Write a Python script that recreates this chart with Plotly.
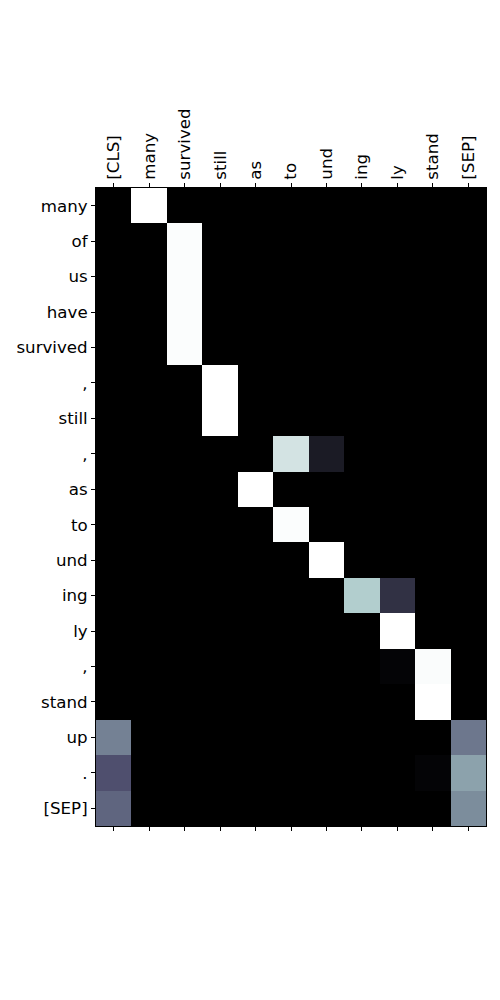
import plotly.graph_objects as go

cols = ["[CLS]", "many", "survived", "still", "as", "to", "und", "ing", "ly", "stand", "[SEP]"]
rows = ["many", "of", "us", "have", "survived", ",", "still", ",", "as", "to", "und", "ing", "ly", ",", "stand", "up", ".", "[SEP]"]

z_many     = [0, 1.0, 0, 0, 0, 0, 0, 0, 0, 0, 0]
z_of       = [0, 0, 0.99, 0, 0, 0, 0, 0, 0, 0, 0]
z_us       = [0, 0, 0.99, 0, 0, 0, 0, 0, 0, 0, 0]
z_have     = [0, 0, 0.99, 0, 0, 0, 0, 0, 0, 0, 0]
z_survived = [0, 0, 0.99, 0, 0, 0, 0, 0, 0, 0, 0]
z_comma1   = [0, 0, 0, 1.0, 0, 0, 0, 0, 0, 0, 0]
z_still    = [0, 0, 0, 1.0, 0, 0, 0, 0, 0, 0, 0]
z_comma2   = [0, 0, 0, 0, 0, 0.875, 0.12, 0, 0, 0, 0]
z_as       = [0, 0, 0, 0, 1.0, 0, 0, 0, 0, 0, 0]
z_to       = [0, 0, 0, 0, 0, 0.99, 0, 0, 0, 0, 0]
z_und      = [0, 0, 0, 0, 0, 0, 1.0, 0, 0, 0, 0]
z_ing      = [0, 0, 0, 0, 0, 0, 0, 0.78, 0.22, 0, 0]
z_ly       = [0, 0, 0, 0, 0, 0, 0, 0, 1.0, 0, 0]
z_comma3   = [0, 0, 0, 0, 0, 0, 0, 0, 0.02, 0.985, 0]
z_stand    = [0, 0, 0, 0, 0, 0, 0, 0, 0, 1.0, 0]
z_up       = [0.52, 0, 0, 0, 0, 0, 0, 0, 0, 0, 0.49]
z_period   = [0.355, 0, 0, 0, 0, 0, 0, 0, 0, 0.02, 0.63]
z_sep      = [0.43, 0, 0, 0, 0, 0, 0, 0, 0, 0, 0.56]

z = [z_many, z_of, z_us, z_have, z_survived, z_comma1, z_still, z_comma2, z_as, z_to,
     z_und, z_ing, z_ly, z_comma3, z_stand, z_up, z_period, z_sep]

bone = [
    [0.0, "rgb(0,0,0)"],
    [0.365079, "rgb(81,81,113)"],
    [0.746032, "rgb(166,198,198)"],
    [1.0, "rgb(255,255,255)"],
]

xi = list(range(len(cols)))
yi = list(range(len(rows)))

fig = go.Figure()
fig.add_trace(go.Heatmap(z=z, x=xi, y=yi, colorscale=bone, zmin=0, zmax=1,
                         showscale=False, hoverinfo="skip"))
fig.add_trace(go.Scatter(x=[xi[0]], y=[yi[0]], xaxis="x2", mode="markers",
                         marker=dict(opacity=0), showlegend=False, hoverinfo="skip"))

font = dict(family="DejaVu Sans", size=16.67, color="black")
fig.update_layout(
    width=500, height=1000,
    margin=dict(l=96, r=14, t=188, b=174),
    paper_bgcolor="white", plot_bgcolor="white",
    showlegend=False,
    font=font,
    xaxis=dict(side="top", range=[-0.5, len(cols) - 0.5], tickvals=xi, ticktext=cols,
               tickangle=-90, ticks="outside", ticklen=4, tickcolor="black",
               showgrid=False, zeroline=False, showline=True, linecolor="black",
               linewidth=1, mirror=True, tickfont=font),
    xaxis2=dict(side="bottom", overlaying="x", range=[-0.5, len(cols) - 0.5],
                tickvals=xi, showticklabels=False, ticks="outside", ticklen=4,
                tickcolor="black", showgrid=False, zeroline=False, showline=False),
    yaxis=dict(range=[len(rows) - 0.5, -0.5], tickvals=yi, ticktext=rows,
               ticks="outside", ticklen=4, tickcolor="black",
               showgrid=False, zeroline=False, showline=True, linecolor="black",
               linewidth=1, mirror=True, tickfont=font),
)

fig.write_html("out.html")
